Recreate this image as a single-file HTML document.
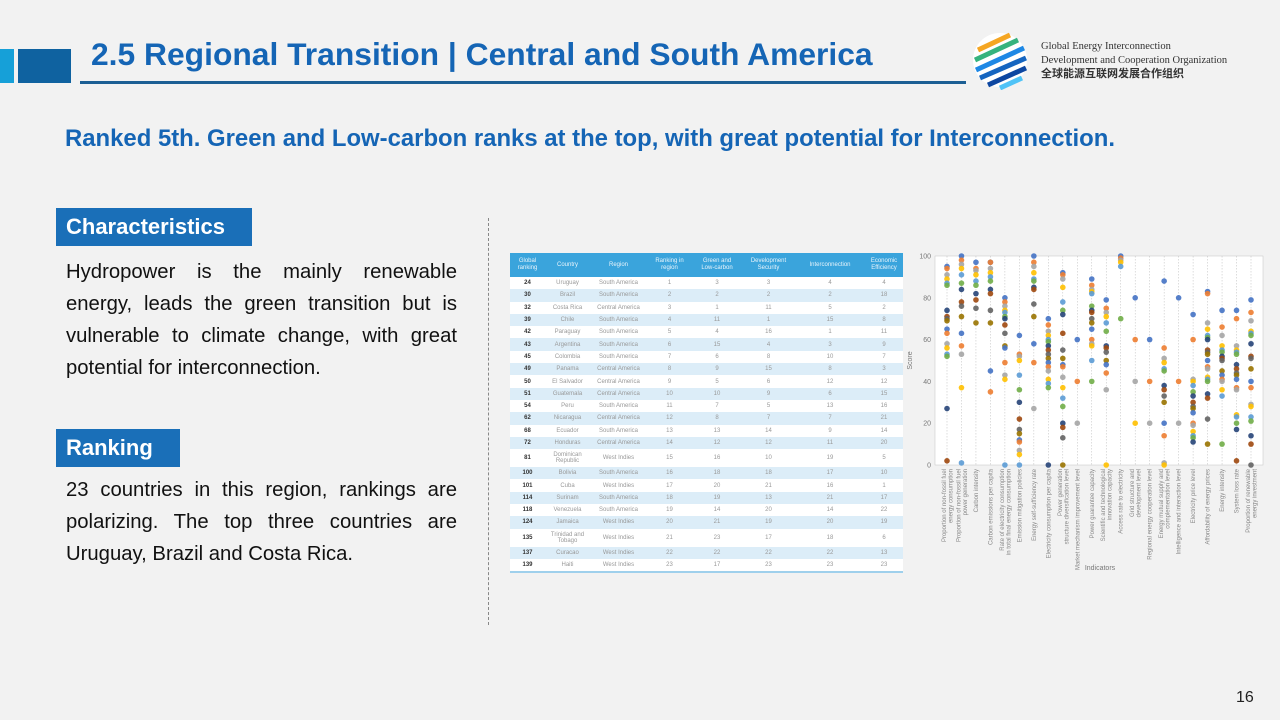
<!DOCTYPE html>
<html><head><meta charset="utf-8">
<style>
body{margin:0;width:1280px;height:720px;background:#f2f2f2;font-family:"Liberation Sans",sans-serif;position:relative;overflow:hidden}
.abs{position:absolute}
.title{left:91px;top:36px;font-size:31.8px;font-weight:bold;color:#1565b5;white-space:nowrap}
.sub{left:65px;top:125px;font-size:23.9px;font-weight:bold;color:#1565b5;white-space:nowrap}
.tag{background:#1a6fb8;color:#fff;font-weight:bold;font-size:22px;padding:0 10px;line-height:38px}
.para{left:66px;width:391px;font-size:20.3px;line-height:32px;text-align:justify;color:#111}
table{border-collapse:collapse;font-size:6px;color:#999;text-align:center}
th{background:#3aa4dc;color:#e8f4fb;font-weight:normal;height:24px;padding:0;line-height:7px}
td{padding:0;height:12.3px;line-height:6px}
td.g{color:#333;font-weight:bold}
tr.alt td{background:#dcedf8}
tr.db td{height:18px}
</style></head><body>
<div class="abs" style="left:0;top:49px;width:14px;height:34px;background:#16a0d8"></div>
<div class="abs" style="left:18px;top:49px;width:53px;height:34px;background:#0f62a0"></div>
<div class="abs title">2.5 Regional Transition | Central and South America</div>
<div class="abs" style="left:80px;top:81px;width:886px;height:3px;background:#1c5f94"></div>
<svg class="abs" style="left:970px;top:30px" width="60" height="60" viewBox="0 0 60 60">
<circle cx="30" cy="30" r="27" fill="#fff"/>
<g stroke-width="5" fill="none"><path d="M8 20 L40 5" stroke="#f5a623"/><path d="M5 30 L48 10" stroke="#36b37e"/><path d="M6 40 L54 18" stroke="#1e88e5"/><path d="M10 48 L56 28" stroke="#1565c0"/><path d="M18 55 L56 38" stroke="#0d47a1"/><path d="M30 58 L52 48" stroke="#4fc3f7"/></g></svg>
<div class="abs" style="left:1041px;top:40px;font-family:'Liberation Serif',serif;font-size:10.5px;line-height:13.5px;color:#333">Global Energy Interconnection<br>Development and Cooperation Organization<br><span style="font-family:'Noto Sans CJK SC',sans-serif;font-weight:bold;font-size:11px">全球能源互联网发展合作组织</span></div>
<div class="abs sub">Ranked 5th. Green and Low-carbon ranks at the top, with great potential for Interconnection.</div>
<div class="abs tag" style="left:56px;top:208px;width:176px">Characteristics</div>
<div class="abs para" style="top:256px">Hydropower is the mainly renewable energy, leads the green transition but is vulnerable to climate change, with great potential for interconnection.</div>
<div class="abs tag" style="left:56px;top:429px;width:104px">Ranking</div>
<div class="abs para" style="top:474px">23 countries in this region, rankings are polarizing. The top three countries are Uruguay, Brazil and Costa Rica.</div>
<div class="abs" style="left:488px;top:218px;height:407px;border-left:1.5px dashed #888"></div>

<table class="abs" style="left:510px;top:253px;width:393px;background:#fff;border-bottom:2px solid #9fd0ec">
<colgroup><col style="width:35px"><col style="width:45px"><col style="width:57px"><col style="width:45px"><col style="width:50px"><col style="width:53px"><col style="width:70px"><col style="width:38px"></colgroup>
<tbody id="tb"><tr><th>Global<br>ranking</th><th>Country</th><th>Region</th><th>Ranking in<br>region</th><th>Green and<br>Low-carbon</th><th>Development<br>Security</th><th>Interconnection</th><th>Economic<br>Efficiency</th></tr></tbody></table>

<svg class="abs" id="chart" style="left:905px;top:250px" width="365" height="330"></svg>
<div class="abs" style="left:1236px;top:689px;font-size:16px;color:#222">16</div>

<script>
const rows=[[24,"Uruguay","South America",1,3,3,4,4],[30,"Brazil","South America",2,2,2,2,18],[32,"Costa Rica","Central America",3,1,11,5,2],[39,"Chile","South America",4,11,1,15,8],[42,"Paraguay","South America",5,4,16,1,11],[43,"Argentina","South America",6,15,4,3,9],[45,"Colombia","South America",7,6,8,10,7],[49,"Panama","Central America",8,9,15,8,3],[50,"El Salvador","Central America",9,5,6,12,12],[51,"Guatemala","Central America",10,10,9,6,15],[54,"Peru","South America",11,7,5,13,16],[62,"Nicaragua","Central America",12,8,7,7,21],[68,"Ecuador","South America",13,13,14,9,14],[72,"Honduras","Central America",14,12,12,11,20],[81,"Dominican<br>Republic","West Indies",15,16,10,19,5],[100,"Bolivia","South America",16,18,18,17,10],[101,"Cuba","West Indies",17,20,21,16,1],[114,"Surinam","South America",18,19,13,21,17],[118,"Venezuela","South America",19,14,20,14,22],[124,"Jamaica","West Indies",20,21,19,20,19],[135,"Trinidad and<br>Tobago","West Indies",21,23,17,18,6],[137,"Curacao","West Indies",22,22,22,22,13],[139,"Haiti","West Indies",23,17,23,23,23]];
const tb=document.getElementById('tb');
rows.forEach((r,i)=>{const tr=document.createElement('tr');


if(i%2)tr.className='alt';if(String(r[1]).includes('<br>'))tr.className+=' db';
tr.innerHTML=r.map((c,j)=>`<td${j==0?' class="g"':''}>${c}</td>`).join('');tb.appendChild(tr);});

const indicators=["Proportion of non-fossil fuel|energy consumption","Proportion of non-fossil fuel|power generation","Carbon intensity","Carbon emissions per capita","Rate of electricity consumption|in total final energy consumption","Emission mitigation policies","Energy self-sufficiency rate","Electricity consumption per capita","Power generation|structure diversification level","Market mechanism improvement level","Power guarantee capacity","Scientific and technological|innovation capacity","Access rate to electricity","Grid structure and|development level","Regional energy cooperation level","Energy mutual supply and|complementation level","Intelligence and interaction level","Electricity price level","Affordability of energy prices","Energy intensity","System loss rate","Proportion of renewable|energy investment"];
const scores=[[95,94,91,89,87,86,74,71,70,69,65,63,58,56,53,52,27,2],[100,98,96,94,91,87,84,78,76,71,63,57,53,37,1],[97,94,93,91,88,86,82,79,75,68],[97,97,94,92,90,88,84,82,74,68,45,35],[80,78,76,74,73,71,70,67,63,57,56,49,43,41,0],[62,53,52,50,43,36,30,22,17,15,12,11,7,5,0],[100,97,95,92,89,88,85,84,77,71,58,49,27],[70,67,64,62,60,59,57,55,53,51,49,47,45,41,39,37,0],[92,91,89,85,78,74,72,63,55,51,48,47,42,37,32,28,20,18,13,0],[60,40,20],[89,86,84,83,82,76,74,73,70,68,65,60,58,57,50,40],[79,75,73,71,68,64,57,56,54,50,48,44,36,0],[100,99,98,97,95,70],[80,60,40,20],[60,40,20],[88,56,51,49,46,45,38,36,33,30,20,14,1,0],[80,40,20],[72,60,41,40,38,35,33,30,28,27,25,20,19,16,14,13,11],[83,82,68,65,62,61,60,55,54,53,50,47,46,42,41,40,34,32,22,10],[74,66,62,57,55,54,52,51,50,45,43,41,40,36,33,10],[74,70,57,55,54,53,48,46,44,43,41,37,36,24,23,20,17,2],[79,73,69,64,63,62,58,52,51,46,40,37,29,28,23,21,14,10,0]];
const yTicks=[0,20,40,60,80,100];
const colors=["#4472c4","#ed7d31","#a5a5a5","#ffc000","#5b9bd5","#70ad47","#264478","#9e480e","#636363","#997300"];
const svg=document.getElementById('chart'),NS="http://www.w3.org/2000/svg";
const L=30,R=358,T=6,B=215;
const y=v=>B-(v/100)*(B-T);
const x=i=>L+12+i*(R-L-24)/(indicators.length-1);
function mk(t,a,p){const e=document.createElementNS(NS,t);for(const k in a)e.setAttribute(k,a[k]);(p||svg).appendChild(e);return e;}
mk('rect',{x:L,y:T,width:R-L,height:B-T,fill:'#fff',stroke:'#ccc','stroke-width':0.6});
yTicks.forEach(v=>{const t=mk('text',{x:L-4,y:y(v)+2.5,'text-anchor':'end','font-size':7,fill:'#777'});t.textContent=v;

});
indicators.forEach((lab,i)=>{
 const ln=mk('line',{x1:x(i),x2:x(i),y1:T,y2:B,stroke:'#bbb','stroke-width':0.5,'stroke-dasharray':'1.5,1.5'});
 
 
 const parts=lab.split('|');
 const t=mk('text',{transform:`translate(${x(i)},${B+4}) rotate(-90)`,'text-anchor':'end','font-size':6,fill:'#888'});
 
 
 parts.forEach((p,k)=>{const ts=mk('tspan',{x:0,dy:k==0?(parts.length==1?2:-1):6.5},t);ts.textContent=p;});
 scores[i].forEach((v,k)=>{const c=mk('circle',{cx:x(i),cy:y(v),r:2.8,fill:colors[k%colors.length],opacity:0.9});
 
 });
});
const yl=mk('text',{transform:`translate(7,${(T+B)/2}) rotate(-90)`,'text-anchor':'middle','font-size':7,fill:'#777'});yl.textContent='Score';


const xl=mk('text',{x:195,y:320,'text-anchor':'middle','font-size':7,fill:'#777'});xl.textContent='Indicators';


</script>
</body></html>
